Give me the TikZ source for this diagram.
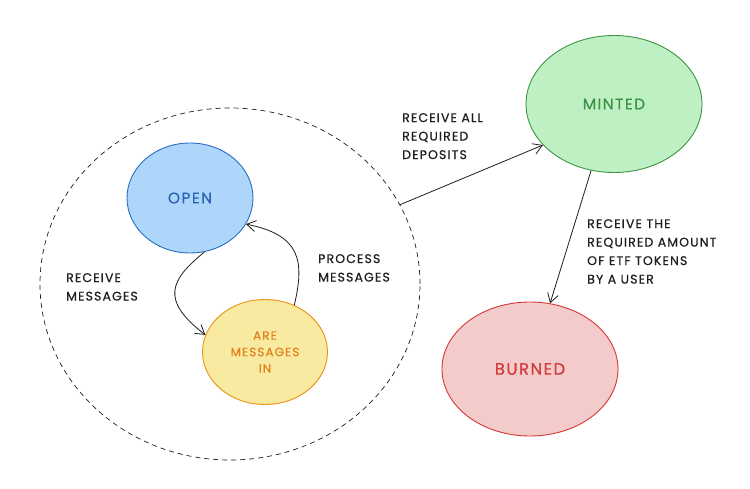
\documentclass[tikz,border=0pt]{standalone}
\usepackage{fontspec}
\setmainfont{Poppins}[LetterSpace=9,FakeBold=0.5]
\usetikzlibrary{shapes.geometric,arrows.meta}
\definecolor{bluefill}{RGB}{174,214,250}
\definecolor{bluestroke}{RGB}{40,110,195}
\definecolor{bluetext}{RGB}{45,100,180}
\definecolor{yelfill}{RGB}{248,234,160}
\definecolor{yelstroke}{RGB}{235,145,20}
\definecolor{yeltext}{RGB}{225,130,30}
\definecolor{grnfill}{RGB}{190,240,195}
\definecolor{grnstroke}{RGB}{60,150,70}
\definecolor{grntext}{RGB}{60,145,70}
\definecolor{redfill}{RGB}{243,203,203}
\definecolor{redstroke}{RGB}{215,55,55}
\definecolor{redtext}{RGB}{210,60,60}
\definecolor{ink}{RGB}{30,30,30}
\tikzset{
  state/.style={ellipse, draw, line width=0.9pt, inner sep=0pt, align=center,
    font=\fontsize{15.5}{18}\selectfont},
  lbl/.style={align=left, anchor=north west, inner sep=0pt, text=ink,
    font=\fontsize{12.5}{18.5}\selectfont},
  conn/.style={draw=ink, line width=0.8pt, -{Straight Barb[length=9pt,width=11pt]}},
}
\begin{document}
\begin{tikzpicture}[x=1pt,y=-1pt]
\useasboundingbox[fill=white] (0,0) rectangle (750,489);
% dashed group circle
\node[ellipse, draw=ink, dash pattern=on 5pt off 4pt, line width=0.7pt,
  minimum width=380pt, minimum height=352pt, inner sep=0pt] (grp) at (230,284) {};
% states
\node[state, fill=bluefill, draw=bluestroke, text=bluetext,
  minimum width=126pt, minimum height=110pt] (open) at (190,198) {OPEN};
\node[state, fill=yelfill, draw=yelstroke, text=yeltext,
  minimum width=125pt, minimum height=105pt, font=\fontsize{12}{16.5}\selectfont] (are) at (265,352) {ARE\\MESSAGES\\IN};
\node[state, fill=grnfill, draw=grnstroke, text=grntext,
  minimum width=176pt, minimum height=137pt] (mint) at (614,104) {MINTED};
\node[state, fill=redfill, draw=redstroke, text=redtext,
  minimum width=176pt, minimum height=134pt, font=\fontsize{16.5}{18}\selectfont] (burn) at (530,369) {BURNED};
% connectors
\draw[conn] (open.285) .. controls (170,280) and (160,300) .. (are.164);
\draw[conn] (are.58) .. controls (305,260) and (300,235) .. (open.335);
\draw[conn] (grp.25) -- (mint.210);
\draw[conn] (mint.251) -- (burn.73);
% labels
\node[lbl] (l1) at (66,273) {RECEIVE\\MESSAGES};
\node[lbl] (l2) at (318,254) {PROCESS\\MESSAGES};
\node[lbl] (l3) at (402,113) {RECEIVE ALL\\REQUIRED\\DEPOSITS};
\node[lbl] (l4) at (587,219) {RECEIVE THE\\REQUIRED AMOUNT\\OF ETF TOKENS\\BY A USER};
\end{tikzpicture}
\end{document}
